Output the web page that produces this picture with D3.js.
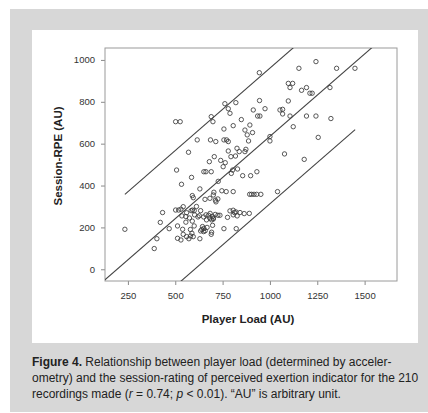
<!DOCTYPE html>
<html><head><meta charset="utf-8">
<script src="https://cdn.jsdelivr.net/npm/d3@7"></script>
<style>
html,body{margin:0;padding:0;background:#fff;}
svg{display:block;font-family:"Liberation Sans",Arial,sans-serif;}
</style></head>
<body>
<svg id="chart" width="428" height="413"></svg>
<script>
// ---- data ----
const xTicks = [250, 500, 750, 1000, 1250, 1500];
const yTicks = [0, 200, 400, 600, 800, 1000];
const playerLoad = [
 944,1153,1243,1352,1449,1097,1120,1106,1167,1193,1211,1223,1317,
 820,762,780,789,945,974,912,1097,1053,1067,1067,935,947,1106,1123,1193,1243,1322,
 1255,1181,1077,1000,1000,1040,
 849,868,880,894,908,887,806,757,690,699,502,526,616,686,714,757,771,780,
 570,680,706,753,764,780,794,818,826,838,873,868,796,803,829,856,898,931,
 651,662,690,507,586,533,630,590,595,704,701,683,725,715,657,769,806,
 893,903,916,930,952,
 433,421,468,403,389,234,502,518,530,542,535,556,584,591,602,627,634,
 650,662,676,684,697,701,711,725,736,
 512,539,512,530,542,560,572,581,600,588,595,630,634,640,644,651,658,692,690,697,757,822,
 789,806,827,806,776,842,864,891,683,692,701,665,813,820,
 600,612,560,575,620,590,650,668,712,746,727,740,556,580
];
const sessionRPE = [
 939,960,992,960,960,888,888,868,855,868,841,841,868,
 796,791,767,745,806,767,761,804,761,764,742,732,732,732,681,732,732,720,
 630,525,551,634,613,371,
 715,665,642,689,653,613,686,670,729,705,705,705,618,618,610,618,618,610,
 559,514,538,490,509,565,538,541,578,562,573,562,458,474,479,447,447,466,
 466,466,466,474,439,406,384,352,342,368,355,339,336,322,334,371,371,
 358,358,358,358,358,
 271,224,194,146,99,191,283,283,287,299,255,252,280,283,260,256,280,
 250,260,258,267,252,244,262,258,258,
 207,191,148,140,167,156,146,159,207,172,156,146,183,190,204,195,184,177,167,210,194,194,
 279,282,255,260,248,271,266,267,244,236,240,236,271,274,
 280,300,270,245,250,230,180,200,330,375,420,520,225,190
];
const fitSlope = 0.787;
const fitIntercepts = [174, -152, -474];     // upper limit, fit, lower limit
const fitXStart = [234, 0, 234];
const fitXEnd = [1450, 1700, 1450];
const xTitle = "Player Load (AU)";
const yTitle = "Session-RPE (AU)";

// ---- layout ----
const svg = d3.select("#chart");
svg.append("rect").attr("x",10).attr("y",9).attr("width",418).attr("height",403).attr("fill","#d7d7d7");
svg.append("rect").attr("x",32).attr("y",30).attr("width",386).attr("height",313).attr("fill","#ffffff");

const L = 105, R = 397, T = 48, B = 281;
const x = d3.scaleLinear().domain([129, 1671]).range([L, R]);
const y = d3.scaleLinear().domain([-56, 1057]).range([B, T]);

svg.append("clipPath").attr("id","clip").append("rect")
  .attr("x",L).attr("y",T).attr("width",R-L).attr("height",B-T);

// axes
const yAxis = svg.append("g").attr("transform",`translate(${L},0)`)
  .call(d3.axisLeft(y).tickValues(yTicks).tickSize(4).tickPadding(6).tickFormat(d3.format("d")));
const xAxis = svg.append("g").attr("transform",`translate(0,${B})`)
  .call(d3.axisBottom(x).tickValues(xTicks).tickSize(4).tickPadding(7).tickFormat(d3.format("d")));
[xAxis,yAxis].forEach(g=>{
  g.select(".domain").remove();
  g.selectAll("line").attr("stroke","#8a8a8a");
  g.selectAll("text").attr("font-size",9.5).attr("fill","#333")
   .attr("font-family","'Liberation Sans',Arial,sans-serif");
});

// frame
svg.append("rect").attr("x",L).attr("y",T).attr("width",R-L).attr("height",B-T)
  .attr("fill","none").attr("stroke","#9a9a9a").attr("stroke-width",1);

// fit lines
const lines = fitIntercepts.map((b,i)=>[[fitXStart[i], fitSlope*fitXStart[i]+b],[fitXEnd[i], fitSlope*fitXEnd[i]+b]]);
svg.append("g").attr("clip-path","url(#clip)").selectAll("path").data(lines).join("path")
  .attr("d", d3.line().x(d=>x(d[0])).y(d=>y(d[1])))
  .attr("fill","none").attr("stroke","#444").attr("stroke-width",1.1);

// points
const pts = playerLoad.map((v,i)=>[v, sessionRPE[i]]);
svg.append("g").selectAll("circle").data(pts).join("circle")
  .attr("cx",d=>x(d[0])).attr("cy",d=>y(d[1])).attr("r",2.2)
  .attr("fill","none").attr("stroke","#3a3a3a").attr("stroke-width",0.85);

// titles
svg.append("text").attr("x",248).attr("y",323).attr("text-anchor","middle")
  .attr("font-size",11.5).attr("font-weight","bold").attr("fill","#222").text(xTitle);
svg.append("text").attr("transform","translate(62,156) rotate(-90)").attr("text-anchor","middle")
  .attr("font-size",11.5).attr("font-weight","bold").attr("fill","#222").text(yTitle);

// caption
const cap = svg.append("g").attr("font-size",12).attr("fill","#222");
const l1 = cap.append("text").attr("x",32).attr("y",366);
l1.append("tspan").attr("font-weight","bold").text("Figure 4.");
l1.append("tspan").text(" Relationship between player load (determined by acceler-");
cap.append("text").attr("x",32).attr("y",382)
  .text("ometry) and the session-rating of perceived exertion indicator for the 210");
const l3 = cap.append("text").attr("x",32).attr("y",398);
l3.append("tspan").text("recordings made (");
l3.append("tspan").attr("font-style","italic").text("r");
l3.append("tspan").text(" = 0.74; ");
l3.append("tspan").attr("font-style","italic").text("p");
l3.append("tspan").text(" < 0.01). \u201CAU\u201D is arbitrary unit.");
</script>
</body></html>
